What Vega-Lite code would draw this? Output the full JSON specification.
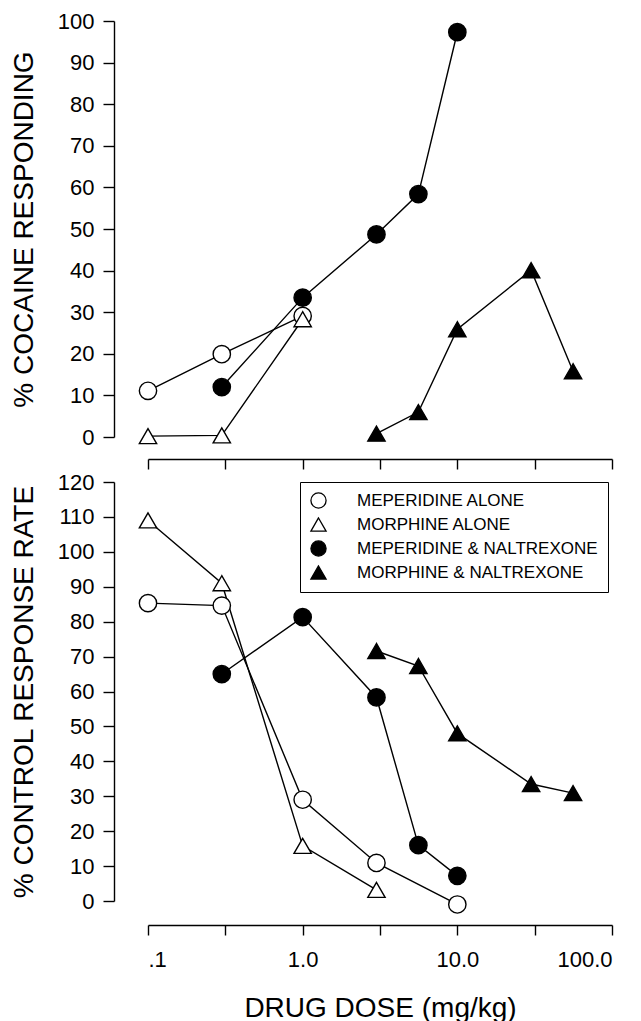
{
  "$schema": "https://vega.github.io/schema/vega-lite/v6.json",
  "padding": {"left": 10, "top": 10, "right": 5, "bottom": 0},
  "background": "white",
  "datasets": {
    "cocaine": [
      {"dose": 0.1, "value": 11.1, "series": "MEPERIDINE ALONE"},
      {"dose": 0.3, "value": 19.9, "series": "MEPERIDINE ALONE"},
      {"dose": 1, "value": 29.1, "series": "MEPERIDINE ALONE"},
      {"dose": 0.1, "value": 0.2, "series": "MORPHINE ALONE"},
      {"dose": 0.3, "value": 0.4, "series": "MORPHINE ALONE"},
      {"dose": 1, "value": 28.3, "series": "MORPHINE ALONE"},
      {"dose": 0.3, "value": 12.0, "series": "MEPERIDINE & NALTREXONE"},
      {"dose": 1, "value": 33.5, "series": "MEPERIDINE & NALTREXONE"},
      {"dose": 3, "value": 48.7, "series": "MEPERIDINE & NALTREXONE"},
      {"dose": 5.6, "value": 58.4, "series": "MEPERIDINE & NALTREXONE"},
      {"dose": 10, "value": 97.3, "series": "MEPERIDINE & NALTREXONE"},
      {"dose": 3, "value": 0.8, "series": "MORPHINE & NALTREXONE"},
      {"dose": 5.6, "value": 6.0, "series": "MORPHINE & NALTREXONE"},
      {"dose": 10, "value": 25.9, "series": "MORPHINE & NALTREXONE"},
      {"dose": 30, "value": 40.1, "series": "MORPHINE & NALTREXONE"},
      {"dose": 56, "value": 15.8, "series": "MORPHINE & NALTREXONE"}
    ],
    "rate": [
      {"dose": 0.1, "value": 85.3, "series": "MEPERIDINE ALONE"},
      {"dose": 0.3, "value": 84.6, "series": "MEPERIDINE ALONE"},
      {"dose": 1, "value": 29.0, "series": "MEPERIDINE ALONE"},
      {"dose": 3, "value": 10.9, "series": "MEPERIDINE ALONE"},
      {"dose": 10, "value": -1.0, "series": "MEPERIDINE ALONE"},
      {"dose": 0.1, "value": 109.0, "series": "MORPHINE ALONE"},
      {"dose": 0.3, "value": 91.0, "series": "MORPHINE ALONE"},
      {"dose": 1, "value": 15.8, "series": "MORPHINE ALONE"},
      {"dose": 3, "value": 3.2, "series": "MORPHINE ALONE"},
      {"dose": 0.3, "value": 65.0, "series": "MEPERIDINE & NALTREXONE"},
      {"dose": 1, "value": 81.3, "series": "MEPERIDINE & NALTREXONE"},
      {"dose": 3, "value": 58.3, "series": "MEPERIDINE & NALTREXONE"},
      {"dose": 5.6, "value": 16.0, "series": "MEPERIDINE & NALTREXONE"},
      {"dose": 10, "value": 7.2, "series": "MEPERIDINE & NALTREXONE"},
      {"dose": 3, "value": 71.6, "series": "MORPHINE & NALTREXONE"},
      {"dose": 5.6, "value": 67.3, "series": "MORPHINE & NALTREXONE"},
      {"dose": 10, "value": 48.0, "series": "MORPHINE & NALTREXONE"},
      {"dose": 30, "value": 33.5, "series": "MORPHINE & NALTREXONE"},
      {"dose": 56, "value": 30.9, "series": "MORPHINE & NALTREXONE"}
    ]
  },
  "config": {
    "view": {"stroke": null},
    "font": "Liberation Sans",
    "axis": {
      "grid": false,
      "domainColor": "black",
      "domainWidth": 1.4,
      "tickColor": "black",
      "tickWidth": 1.4,
      "labelColor": "black",
      "titleColor": "black",
      "labelFont": "Liberation Sans",
      "titleFont": "Liberation Sans",
      "titleFontWeight": "normal",
      "labelFontSize": 22,
      "titleFontSize": 28
    }
  },
  "spacing": 45,
  "bounds": "flush",
  "vconcat": [
    {
      "width": 464,
      "height": 416,
      "data": {"name": "cocaine"},
      "encoding": {
        "x": {
          "field": "dose", "type": "quantitative",
          "scale": {"type": "log", "domain": [0.1, 100], "nice": false},
          "axis": {"title": null, "labels": false, "values": [0.1, 0.3162, 1, 3.162, 10, 31.62, 100], "offset": 22, "tickSize": 10}
        },
        "y": {
          "field": "value", "type": "quantitative",
          "scale": {"domain": [0, 100], "nice": false, "zero": false},
          "axis": {"title": "% COCAINE RESPONDING", "values": [0, 10, 20, 30, 40, 50, 60, 70, 80, 90, 100], "offset": 34, "tickSize": 11, "labelPadding": 9, "titlePadding": 19}
        }
      },
      "layer": [
        {"mark": {"type": "line", "color": "black", "strokeWidth": 1.4}, "encoding": {"detail": {"field": "series"}}},
        {
          "mark": {"type": "point", "strokeWidth": 1.4, "size": 300, "opacity": 1},
          "encoding": {
            "shape": {"field": "series", "type": "nominal", "scale": {"domain": ["MEPERIDINE ALONE", "MORPHINE ALONE", "MEPERIDINE & NALTREXONE", "MORPHINE & NALTREXONE"], "range": ["circle", "triangle-up", "circle", "triangle-up"]}, "legend": null},
            "fill": {"field": "series", "type": "nominal", "scale": {"domain": ["MEPERIDINE ALONE", "MORPHINE ALONE", "MEPERIDINE & NALTREXONE", "MORPHINE & NALTREXONE"], "range": ["white", "white", "black", "black"]}, "legend": null},
            "stroke": {"field": "series", "type": "nominal", "scale": {"domain": ["MEPERIDINE ALONE", "MORPHINE ALONE", "MEPERIDINE & NALTREXONE", "MORPHINE & NALTREXONE"], "range": ["black", "black", "black", "black"]}, "legend": null}
          }
        }
      ]
    },
    {
      "width": 464,
      "height": 419,
      "data": {"name": "rate"},
      "encoding": {
        "x": {
          "field": "dose", "type": "quantitative",
          "scale": {"type": "log", "domain": [0.1, 100], "nice": false},
          "axis": {"title": "DRUG DOSE (mg/kg)", "values": [0.1, 0.3162, 1, 3.162, 10, 31.62, 100], "offset": 24, "tickSize": 10, "labelPadding": 14, "titlePadding": 24,
            "labelExpr": "datum.value < 0.15 ? '.1' : abs(datum.value - 1) < 0.01 ? '1.0' : abs(datum.value - 10) < 0.1 ? '10.0' : abs(datum.value - 100) < 1 ? '100.0' : ''"}
        },
        "y": {
          "field": "value", "type": "quantitative",
          "scale": {"domain": [0, 120], "nice": false, "zero": false},
          "axis": {"title": "% CONTROL RESPONSE RATE", "values": [0, 10, 20, 30, 40, 50, 60, 70, 80, 90, 100, 110, 120], "offset": 34, "tickSize": 11, "labelPadding": 9, "titlePadding": 19}
        }
      },
      "layer": [
        {"mark": {"type": "line", "color": "black", "strokeWidth": 1.4}, "encoding": {"detail": {"field": "series"}}},
        {
          "mark": {"type": "point", "strokeWidth": 1.4, "size": 300, "opacity": 1},
          "encoding": {
            "shape": {"field": "series", "type": "nominal", "scale": {"domain": ["MEPERIDINE ALONE", "MORPHINE ALONE", "MEPERIDINE & NALTREXONE", "MORPHINE & NALTREXONE"], "range": ["circle", "triangle-up", "circle", "triangle-up"]},
              "legend": {"title": null, "orient": "none", "legendX": 152, "legendY": 0, "strokeColor": "black", "padding": 10, "labelFont": "Liberation Sans", "labelFontSize": 17, "labelColor": "black", "symbolSize": 230, "symbolStrokeWidth": 1.3, "rowPadding": 4, "labelOffset": 30, "labelLimit": 400}},
            "fill": {"field": "series", "type": "nominal", "scale": {"domain": ["MEPERIDINE ALONE", "MORPHINE ALONE", "MEPERIDINE & NALTREXONE", "MORPHINE & NALTREXONE"], "range": ["white", "white", "black", "black"]},
              "legend": {"title": null, "orient": "none", "legendX": 152, "legendY": 0, "strokeColor": "black", "padding": 10, "labelFont": "Liberation Sans", "labelFontSize": 17, "labelColor": "black", "symbolSize": 230, "symbolStrokeWidth": 1.3, "rowPadding": 4, "labelOffset": 30, "labelLimit": 400}},
            "stroke": {"field": "series", "type": "nominal", "scale": {"domain": ["MEPERIDINE ALONE", "MORPHINE ALONE", "MEPERIDINE & NALTREXONE", "MORPHINE & NALTREXONE"], "range": ["black", "black", "black", "black"]},
              "legend": {"title": null, "orient": "none", "legendX": 152, "legendY": 0, "strokeColor": "black", "padding": 10, "labelFont": "Liberation Sans", "labelFontSize": 17, "labelColor": "black", "symbolSize": 230, "symbolStrokeWidth": 1.3, "rowPadding": 4, "labelOffset": 30, "labelLimit": 400}}
          }
        }
      ]
    }
  ],
  "resolve": {"scale": {"shape": "independent", "fill": "independent", "stroke": "independent"}, "legend": {"shape": "independent", "fill": "independent", "stroke": "independent"}}
}
